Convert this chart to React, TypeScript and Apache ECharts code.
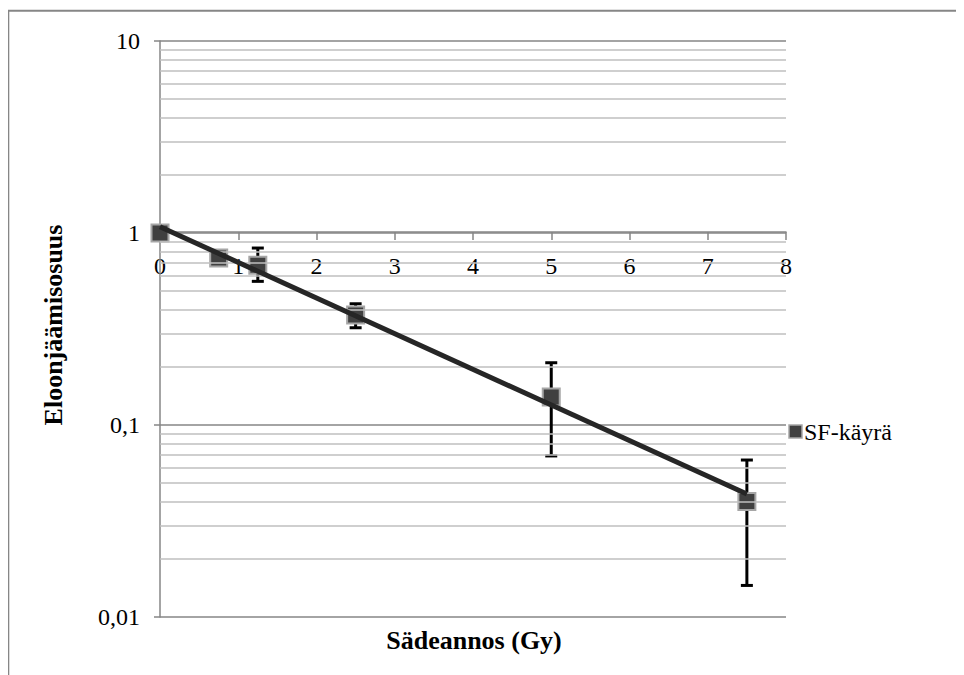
import React, { useEffect, useRef } from "react";
import * as echarts from "echarts";

// Data
const doses = [0, 0.75, 1.25, 2.5, 5, 7.5];
const survival = [1.0, 0.74, 0.68, 0.374, 0.14, 0.04];
const errLower = [null, null, 0.56, 0.321, 0.069, 0.0146];
const errUpper = [null, null, 0.835, 0.428, 0.211, 0.0657];
// Exponential trendline endpoints (as drawn)
const trendX = [0, 7.5];
const trendY = [1.078, 0.0437];

const xTicks = [0, 1, 2, 3, 4, 5, 6, 7, 8];
const yTicks = [0.01, 0.1, 1, 10];
const yTickLabels = ["0,01", "0,1", "1", "10"];
const yDecades = [0.01, 0.1, 1];
const minorMultipliers = [2, 3, 4, 5, 6, 7, 8, 9];

const seriesName = "SF-käyrä";
const xTitle = "Sädeannos (Gy)";
const yTitle = "Eloonjäämisosuus";

const FONT = "Liberation Serif";

export default function App() {
  const ref = useRef<HTMLDivElement>(null);

  useEffect(() => {
    if (!ref.current) return;
    const chart = echarts.init(ref.current, null, { renderer: "svg" });

    const minorLines: any[] = [];
    yDecades.forEach((d) =>
      minorMultipliers.forEach((m) => minorLines.push({ yAxis: +(d * m).toPrecision(6) }))
    );

    const errData = doses
      .map((x, i) => [x, errLower[i], errUpper[i]])
      .filter((r) => r[1] != null);

    const option: any = {
      animation: false,
      backgroundColor: "#ffffff",
      grid: { left: 152, top: 33, right: 178, bottom: 58, containLabel: false },
      xAxis: {
        type: "value",
        min: xTicks[0],
        max: xTicks[xTicks.length - 1],
        interval: 1,
        position: "bottom",
        offset: -385,
        axisLine: { show: true, lineStyle: { color: "#868686", width: 1.5 } },
        axisTick: { show: true, length: 8, lineStyle: { color: "#868686", width: 1.5 } },
        axisLabel: { show: false },
        splitLine: { show: false },
      },
      yAxis: {
        type: "log",
        logBase: 10,
        min: yTicks[0],
        max: yTicks[yTicks.length - 1],
        axisLine: { show: true, onZero: false, lineStyle: { color: "#868686", width: 1.5 } },
        axisTick: { show: true, length: 6, lineStyle: { color: "#868686", width: 1.5 } },
        axisLabel: { show: false },
        splitLine: { show: true, lineStyle: { color: "#868686", width: 1.5 } },
      },
      series: [
        {
          name: "grid-minor",
          type: "line",
          data: [],
          z: 1,
          silent: true,
          markLine: {
            silent: true,
            symbol: ["none", "none"],
            label: { show: false },
            lineStyle: { color: "#bfbfbf", width: 1.5, type: "solid" },
            emphasis: { disabled: true },
            data: minorLines,
          },
        },
        {
          name: "errors",
          type: "custom",
          z: 3,
          silent: true,
          data: errData,
          encode: { x: 0, y: [1, 2] },
          renderItem: (params: any, api: any) => {
            const x = api.value(0);
            const lo = api.coord([x, api.value(1)]);
            const hi = api.coord([x, api.value(2)]);
            const hw = 6;
            const st = { stroke: "#000", lineWidth: 3 };
            return {
              type: "group",
              children: [
                { type: "line", shape: { x1: lo[0], y1: lo[1], x2: hi[0], y2: hi[1] }, style: st },
                { type: "line", shape: { x1: lo[0] - hw, y1: lo[1], x2: lo[0] + hw, y2: lo[1] }, style: st },
                { type: "line", shape: { x1: hi[0] - hw, y1: hi[1], x2: hi[0] + hw, y2: hi[1] }, style: st },
              ],
            };
          },
        },
        {
          name: seriesName,
          type: "scatter",
          z: 4,
          symbol: "rect",
          symbolSize: 17,
          itemStyle: { color: "#404040", borderColor: "#a6a6a6", borderWidth: 2, opacity: 1 },
          data: doses.map((x, i) => [x, survival[i]]),
        },
        {
          name: "trend",
          type: "line",
          z: 5,
          showSymbol: false,
          symbol: "none",
          silent: true,
          lineStyle: { color: "#262626", width: 5 },
          data: trendX.map((x, i) => [x, trendY[i]]),
        },
      ],
    };

    chart.setOption(option);

    // Tick labels placed through the chart's own scales (serif font via graphic text)
    const labelStyle = { fontFamily: FONT, fontSize: 24, fill: "#000" };
    const xLabelEls = xTicks.map((v) => {
      const p = chart.convertToPixel({ gridIndex: 0 }, [v, 1]) as number[];
      return {
        type: "text",
        x: p[0],
        y: p[1] + 33,
        silent: true,
        style: { ...labelStyle, text: String(v), align: "center", verticalAlign: "middle" },
      };
    });
    const yLabelEls = yTicks.map((v, i) => {
      const p = chart.convertToPixel({ gridIndex: 0 }, [0, v]) as number[];
      return {
        type: "text",
        x: p[0] - 20,
        y: p[1],
        silent: true,
        style: { ...labelStyle, text: yTickLabels[i], align: "right", verticalAlign: "middle" },
      };
    });

    chart.setOption({
      graphic: [
        {
          type: "rect",
          shape: { x: 0.3, y: 2.7, width: 2000, height: 2000 },
          style: { fill: "none", stroke: "#868686", lineWidth: 2 },
          silent: true,
        },
        ...xLabelEls,
        ...yLabelEls,
        {
          type: "text",
          x: 466,
          y: 632,
          style: {
            text: xTitle,
            fontFamily: FONT,
            fontWeight: "bold",
            fontSize: 26,
            fill: "#000",
            align: "center",
            verticalAlign: "middle",
          },
        },
        {
          type: "text",
          x: 45,
          y: 317,
          rotation: Math.PI / 2,
          style: {
            text: yTitle,
            fontFamily: FONT,
            fontWeight: "bold",
            fontSize: 26,
            fill: "#000",
            align: "center",
            verticalAlign: "middle",
          },
        },
        // Legend
        {
          type: "rect",
          shape: { x: 781, y: 417, width: 13, height: 13 },
          style: { fill: "#404040", stroke: "#a6a6a6", lineWidth: 1.5 },
          silent: true,
        },
        {
          type: "text",
          x: 796,
          y: 424,
          silent: true,
          style: { ...labelStyle, text: seriesName, align: "left", verticalAlign: "middle" },
        },
      ],
    });

    return () => chart.dispose();
  }, []);

  return <div ref={ref} style={{ width: 956, height: 667 }} />;
}
